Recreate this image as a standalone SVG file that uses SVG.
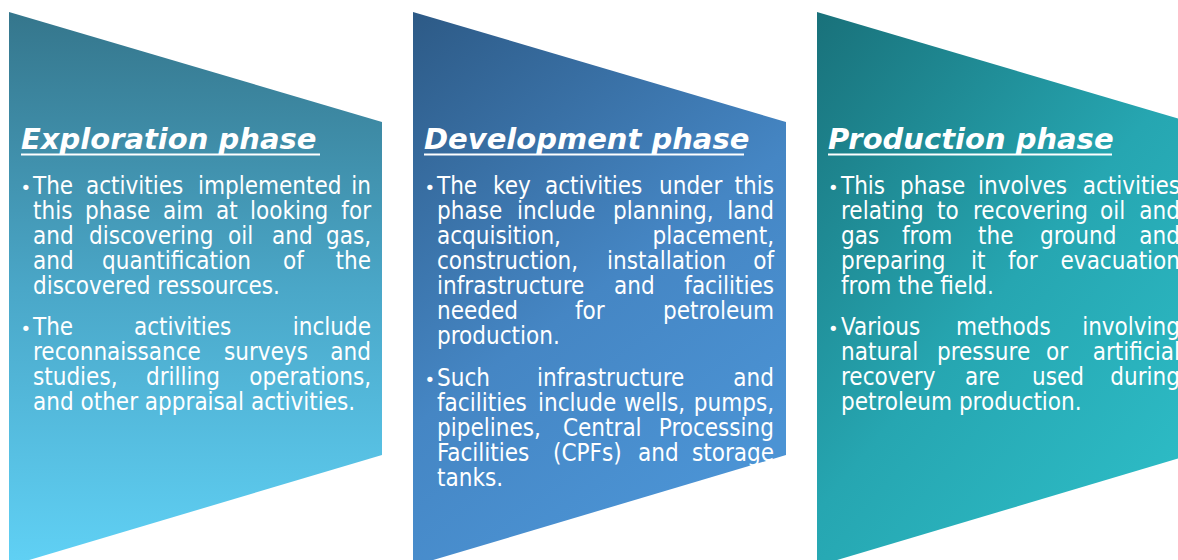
<svg xmlns="http://www.w3.org/2000/svg" width="1178" height="560" viewBox="0 0 1178 560">
<defs>
<linearGradient id="g1" x1="0" y1="0" x2="0" y2="1">
<stop offset="0" stop-color="#35768c"/>
<stop offset="0.5" stop-color="#4aa7c8"/>
<stop offset="1" stop-color="#60d1f5"/>
</linearGradient>
<linearGradient id="g2" x1="0" y1="0" x2="0.5" y2="1">
<stop offset="0" stop-color="#2d5a86"/>
<stop offset="0.6" stop-color="#4586c4"/>
<stop offset="1" stop-color="#4b93d4"/>
</linearGradient>
<linearGradient id="g3" x1="0" y1="0" x2="0.8" y2="1">
<stop offset="0" stop-color="#19717a"/>
<stop offset="0.55" stop-color="#26a6b1"/>
<stop offset="1" stop-color="#2dbcc6"/>
</linearGradient>
</defs>
<style>
.t{font-family:"DejaVu Sans","Liberation Sans",sans-serif;font-size:29px;font-weight:bold;font-style:italic;fill:#ffffff}
.u{fill:#ffffff}
.b{font-family:"DejaVu Sans Condensed","DejaVu Sans",sans-serif;font-stretch:condensed;font-size:24px;fill:#ffffff}
.d{font-family:"DejaVu Sans",sans-serif;font-size:18px;fill:#ffffff}
.e{text-anchor:end}
</style>
<g id="exploration">
<polygon points="9,12 382,122 382,455 9,566" fill="url(#g1)"/>
<text class="t" x="21" y="149">Exploration phase</text>
<rect class="u" x="21" y="153.5" width="299" height="2"/>
<text class="d" x="20.5" y="194">•</text>
<text class="b" y="194"><tspan x="33">The</tspan><tspan x="86">activities</tspan><tspan x="198">implemented</tspan><tspan x="371" class="e">in</tspan></text>
<text class="b" y="219"><tspan x="33">this</tspan><tspan x="85">phase</tspan><tspan x="163">aim</tspan><tspan x="216">at</tspan><tspan x="250">looking</tspan><tspan x="371" class="e">for</tspan></text>
<text class="b" y="244"><tspan x="33">and</tspan><tspan x="89">discovering</tspan><tspan x="228">oil</tspan><tspan x="272">and</tspan><tspan x="371" class="e">gas,</tspan></text>
<text class="b" y="269"><tspan x="33">and</tspan><tspan x="102">quantification</tspan><tspan x="283">of</tspan><tspan x="371" class="e">the</tspan></text>
<text class="b" x="33" y="294">discovered ressources.</text>
<text class="d" x="20.5" y="335">•</text>
<text class="b" y="335"><tspan x="33">The</tspan><tspan x="134">activities</tspan><tspan x="371" class="e">include</tspan></text>
<text class="b" y="360"><tspan x="33">reconnaissance</tspan><tspan x="224">surveys</tspan><tspan x="371" class="e">and</tspan></text>
<text class="b" y="385"><tspan x="33">studies,</tspan><tspan x="146">drilling</tspan><tspan x="371" class="e">operations,</tspan></text>
<text class="b" x="33" y="410">and other appraisal activities.</text>
</g>
<g id="development">
<polygon points="413,12 786,122 786,455 413,566" fill="url(#g2)"/>
<text class="t" x="424" y="149">Development phase</text>
<rect class="u" x="424" y="153.5" width="320" height="2"/>
<text class="d" x="424.5" y="194">•</text>
<text class="b" y="194"><tspan x="437">The</tspan><tspan x="493">key</tspan><tspan x="545">activities</tspan><tspan x="659">under</tspan><tspan x="774" class="e">this</tspan></text>
<text class="b" y="219"><tspan x="437">phase</tspan><tspan x="517">include</tspan><tspan x="613">planning,</tspan><tspan x="774" class="e">land</tspan></text>
<text class="b" y="244"><tspan x="437">acquisition,</tspan><tspan x="774" class="e">placement,</tspan></text>
<text class="b" y="269"><tspan x="437">construction,</tspan><tspan x="607">installation</tspan><tspan x="774" class="e">of</tspan></text>
<text class="b" y="294"><tspan x="437">infrastructure</tspan><tspan x="614">and</tspan><tspan x="774" class="e">facilities</tspan></text>
<text class="b" y="319"><tspan x="437">needed</tspan><tspan x="575">for</tspan><tspan x="774" class="e">petroleum</tspan></text>
<text class="b" x="437" y="344">production.</text>
<text class="d" x="424.5" y="386">•</text>
<text class="b" y="386"><tspan x="437">Such</tspan><tspan x="537">infrastructure</tspan><tspan x="774" class="e">and</tspan></text>
<text class="b" y="411"><tspan x="437">facilities</tspan><tspan x="538">include</tspan><tspan x="624">wells,</tspan><tspan x="774" class="e">pumps,</tspan></text>
<text class="b" y="436"><tspan x="437">pipelines,</tspan><tspan x="563">Central</tspan><tspan x="774" class="e">Processing</tspan></text>
<text class="b" y="461"><tspan x="437">Facilities</tspan><tspan x="553">(CPFs)</tspan><tspan x="638">and</tspan><tspan x="774" class="e">storage</tspan></text>
<text class="b" x="437" y="486">tanks.</text>
</g>
<g id="production">
<polygon points="817,12 1190,122 1190,455 817,566" fill="url(#g3)"/>
<text class="t" x="828" y="149">Production phase</text>
<rect class="u" x="828" y="153.5" width="284" height="2"/>
<text class="d" x="828" y="194">•</text>
<text class="b" y="194"><tspan x="841">This</tspan><tspan x="900">phase</tspan><tspan x="978">involves</tspan><tspan x="1180" class="e">activities</tspan></text>
<text class="b" y="219"><tspan x="841">relating</tspan><tspan x="937">to</tspan><tspan x="973">recovering</tspan><tspan x="1100">oil</tspan><tspan x="1180" class="e">and</tspan></text>
<text class="b" y="244"><tspan x="841">gas</tspan><tspan x="902">from</tspan><tspan x="978">the</tspan><tspan x="1040">ground</tspan><tspan x="1180" class="e">and</tspan></text>
<text class="b" y="269"><tspan x="841">preparing</tspan><tspan x="971">it</tspan><tspan x="1008">for</tspan><tspan x="1180" class="e">evacuation</tspan></text>
<text class="b" x="841" y="294">from the field.</text>
<text class="d" x="828" y="335">•</text>
<text class="b" y="335"><tspan x="841">Various</tspan><tspan x="956">methods</tspan><tspan x="1180" class="e">involving</tspan></text>
<text class="b" y="360"><tspan x="841">natural</tspan><tspan x="937">pressure</tspan><tspan x="1046">or</tspan><tspan x="1180" class="e">artificial</tspan></text>
<text class="b" y="385"><tspan x="841">recovery</tspan><tspan x="965">are</tspan><tspan x="1032">used</tspan><tspan x="1180" class="e">during</tspan></text>
<text class="b" x="841" y="410">petroleum production.</text>
</g>
<g id="connectors"/>
</svg>
